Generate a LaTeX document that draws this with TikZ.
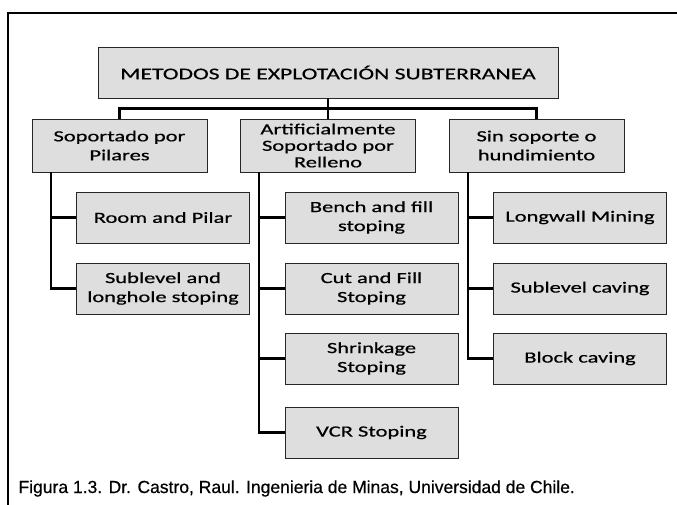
\documentclass[tikz,border=0pt]{standalone}
\usepackage{fontspec}
\usepackage{tikz}
\usetikzlibrary{positioning}
\newfontfamily\cajafont[FakeStretch=1.45,FakeBold=0.6]{Carlito}
\newfontfamily\piefont[FakeBold=0.5]{Liberation Sans}
\colorlet{caja}{black!13}
\tikzset{metodo/.style={draw=black!85,line width=0.8pt,fill=caja,inner sep=0pt,align=center,
    minimum width=173pt,minimum height=51pt,font=\cajafont\fontsize{15.5}{19}\selectfont}}
\tikzset{grupo/.style={metodo,minimum width=175pt,minimum height=53pt}}
\tikzset{rama/.style={line width=2.2pt}}

\begin{document}
\begin{tikzpicture}[x=1pt,y=1pt,on grid]
        \useasboundingbox (0,0) rectangle (677,-505);
        \draw[line width=1.5pt] (8,-505) -- (8,-13) -- (677,-13);
        \node(metodos)[metodo,minimum width=460pt,font=\cajafont\fontsize{16.3}{20}\selectfont]
          at (328,-72.5){METODOS DE EXPLOTACIÓN SUBTERRANEA};
        \node(art)[grupo,below=73pt of metodos,font=\cajafont\fontsize{15.5}{16.5}\selectfont]
          {Artificialmente\\Soportado por\\Relleno};
        \node(sop)[grupo,left=208.5pt of art]{Soportado por\\Pilares};
        \node(sin)[grupo,right=208.5pt of art]{Sin soporte o\\hundimiento};
        % pilares
        \node(room)[metodo,below right=72pt and 43.5pt of sop]{Room and Pilar};
        \node(longhole)[metodo,below=71pt of room]{Sublevel and\\longhole stoping};
        % relleno
        \node(bench)[metodo,below right=72pt and 43.5pt of art]{Bench and fill\\stoping};
        \node(cut)[metodo,below=71pt of bench]{Cut and Fill\\Stoping};
        \node(shrink)[metodo,below=70pt of cut]{Shrinkage\\Stoping};
        \node(vcr)[metodo,below=74pt of shrink]{VCR Stoping};
        % hundimiento
        \node(longwall)[metodo,below right=72pt and 43.5pt of sin]{Longwall Mining};
        \node(subcav)[metodo,below=71pt of longwall]{Sublevel caving};
        \node(block)[metodo,below=70pt of subcav]{Block caving};
        \draw[rama]
        (metodos) -- (art)
        (sop.north) -- ++(0,10) -| (sin.north);
        \foreach \n in {room,longhole}
          \draw[rama] ([xshift=19pt]sop.south west) |- (\n.west);
        \foreach \n in {bench,cut,shrink,vcr}
          \draw[rama] ([xshift=19pt]art.south west) |- (\n.west);
        \foreach \n in {longwall,subcav,block}
          \draw[rama] ([xshift=19pt]sin.south west) |- (\n.west);
        \node(pie)[anchor=base west,font=\piefont\fontsize{17.5}{20}\selectfont]
          at (15,-493){Figura 1.3. Dr. Castro, Raul. Ingenieria de Minas, Universidad de Chile.};
      \end{tikzpicture}
\end{document}
